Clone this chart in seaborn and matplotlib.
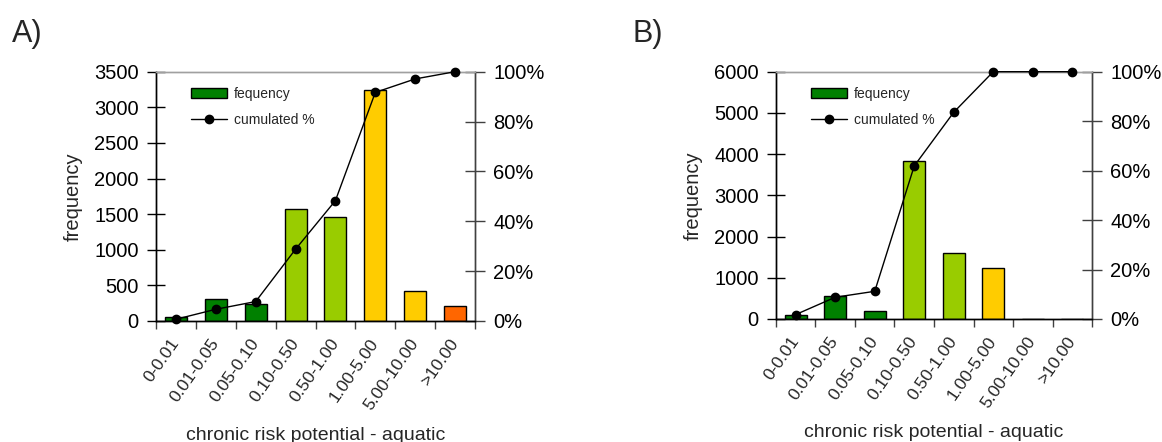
import numpy as np
import matplotlib
matplotlib.use('Agg')
import matplotlib.pyplot as plt
import seaborn as sns
from matplotlib.patches import Patch
from matplotlib.lines import Line2D
from matplotlib.ticker import PercentFormatter, FixedLocator

# --- data ---
categories = ['0-0.01', '0.01-0.05', '0.05-0.10', '0.10-0.50',
              '0.50-1.00', '1.00-5.00', '5.00-10.00', '>10.00']
freq_a = [51, 302, 234, 1566, 1462, 3250, 428, 213]
cum_a = [0.7, 4.7, 7.8, 28.8, 48.3, 91.7, 97.1, 100]
freq_b = [90, 550, 185, 3835, 1597, 1241, 0, 0]
cum_b = [1.8, 8.8, 11.2, 61.9, 83.6, 100, 100, 100]
bar_colors = ['#008000', '#008000', '#008000', '#99CC00',
              '#99CC00', '#FFCC00', '#FFCC00', '#FF6600']

sns.set_style('white')
plt.rcParams['font.family'] = ['Liberation Sans', 'DejaVu Sans']

fig = plt.figure(figsize=(11.62, 4.42), dpi=100)


def draw_panel(rect, freq, cum, ymax, ystep, tag, tag_x):
    ax = fig.add_axes(rect)
    sns.barplot(x=categories, y=freq, hue=categories, palette=bar_colors,
                width=0.55, edgecolor='black', linewidth=1.0,
                legend=False, ax=ax, saturation=1)
    ax.set_xlim(-0.5, len(categories) - 0.5)
    ax.set_ylim(0, ymax)
    ax.set_yticks(np.arange(0, ymax + 1, ystep))

    ax2 = ax.twinx()
    ax2.plot(np.arange(len(categories)), cum, color='black', lw=1.0,
             marker='o', markersize=6, clip_on=False, zorder=5)
    ax2.set_ylim(0, 100)
    ax2.set_yticks(np.arange(0, 101, 20))
    ax2.yaxis.set_major_formatter(PercentFormatter(decimals=0))

    # spines
    for a in (ax, ax2):
        a.spines['top'].set_color('#a0a0a0')
        a.spines['left'].set_color('black')
        a.spines['right'].set_color('#404040')
        a.spines['bottom'].set_color('black')
        for s in a.spines.values():
            s.set_linewidth(1.0)
        a.grid(False)

    ax.tick_params(axis='y', direction='inout', length=13, width=1,
                   labelsize=14.5, pad=6, left=True, colors='black')
    ax2.tick_params(axis='y', direction='inout', length=14, width=1,
                    labelsize=14.5, pad=6, right=True, color='#404040',
                    labelcolor='black')

    # category labels at centres, ticks at boundaries
    ax.tick_params(axis='x', which='major', length=0, labelsize=12.5, pad=14)
    ax.xaxis.set_minor_locator(FixedLocator(np.arange(-0.5, len(categories), 1)))
    ax.tick_params(axis='x', which='minor', direction='out', length=6,
                   width=1, color='#404040', bottom=True)
    for lbl in ax.get_xticklabels():
        lbl.set_rotation(55)
        lbl.set_ha('right')
        lbl.set_va('center')
        lbl.set_rotation_mode('anchor')

    ax.set_ylabel('frequency', fontsize=14.5, labelpad=8)
    ax.set_xlabel('chronic risk potential - aquatic', fontsize=14)
    ax.xaxis.set_label_coords(0.5, -0.425)

    handles = [Patch(facecolor='#008000', edgecolor='black', lw=1),
               Line2D([0], [0], color='black', lw=1, marker='o', markersize=6)]
    ax2.legend(handles, ['fequency', 'cumulated %'], loc='upper left',
               bbox_to_anchor=(0.07, 0.99), frameon=False, fontsize=10,
               handlelength=2.6, handleheight=0.8, labelspacing=0.9,
               handletextpad=0.5)

    fig.text(tag_x, 1 - 34 / 442, tag, fontsize=22, va='center', ha='left')
    return ax, ax2


draw_panel([156 / 1162, 1 - 321 / 442, 319 / 1162, 249.3 / 442],
           freq_a, cum_a, 3500, 500, 'A)', 12 / 1162)
draw_panel([776 / 1162, 1 - 319 / 442, 316 / 1162, 247.3 / 442],
           freq_b, cum_b, 6000, 1000, 'B)', 632 / 1162)

fig.savefig('out.png', dpi=100)
